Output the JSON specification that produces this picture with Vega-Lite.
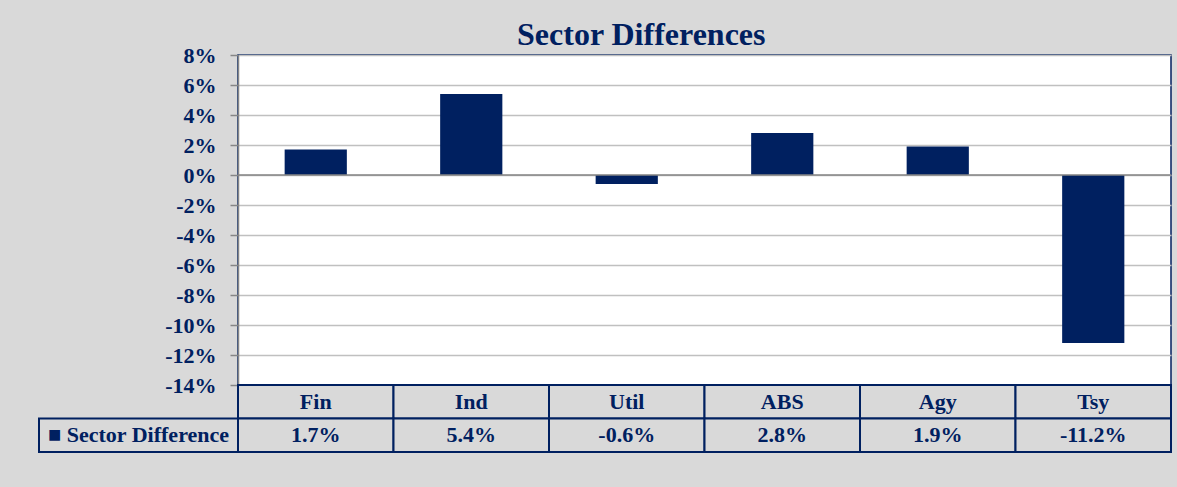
{
  "$schema": "https://vega.github.io/schema/vega-lite/v6.json",
  "background": "#d9d9d9",
  "padding": {"left": 38, "top": 19, "right": 10, "bottom": 40},
  "title": {"text": "Sector Differences", "font": "Liberation Serif", "fontSize": 32, "fontWeight": "bold", "color": "#002060", "anchor": "middle", "offset": -9, "dx": 36},
  "datasets": {
    "sectors": [
      {"sector": "Fin", "value": 1.7},
      {"sector": "Ind", "value": 5.4},
      {"sector": "Util", "value": -0.6},
      {"sector": "ABS", "value": 2.8},
      {"sector": "Agy", "value": 1.9},
      {"sector": "Tsy", "value": -11.2}
    ]
  },
  "columns": 2,
  "spacing": 0,
  "bounds": "flush",
  "align": "each",
  "concat": [
    {
      "width": 199, "height": 330,
      "data": {"values": [{}]},
      "mark": {"type": "point", "opacity": 0},
      "encoding": {}
    },
    {
      "width": 933, "height": 330,
      "data": {"name": "sectors"},
      "view": {"stroke": "#002060", "strokeWidth": 1.5, "fill": "white"},
      "layer": [
        {
          "mark": {"type": "bar", "color": "#002060"},
          "encoding": {
            "x": {"field": "sector", "type": "nominal", "sort": null, "scale": {"paddingInner": 0.6, "paddingOuter": 0.3}, "axis": null},
            "y": {"field": "value", "type": "quantitative",
              "scale": {"domain": [-14, 8], "nice": false, "zero": false},
              "axis": {"values": [-14, -12, -10, -8, -6, -4, -2, 0, 2, 4, 6, 8], "tickCount": 12, "labelExpr": "datum.value + '%'", "title": null,
                "grid": true, "gridColor": "#c0c0c0", "gridWidth": 1.5,
                "domainColor": "#868686", "domainWidth": 1.5, "tickColor": "#868686", "tickWidth": 1.5, "tickSize": 8,
                "labelPadding": 14, "labelFont": "Liberation Serif", "labelFontSize": 22, "labelFontWeight": "bold", "labelColor": "#002060",
                "labelOverlap": false, "labelFlush": false}}
          }
        },
        {
          "data": {"values": [{}]},
          "mark": {"type": "rule", "color": "#868686", "strokeWidth": 1.5},
          "encoding": {"y": {"datum": 0, "type": "quantitative"}}
        }
      ]
    },
    {
      "width": 199, "height": 67,
      "data": {"values": [{"name": "■ Sector Difference"}]},
      "layer": [
        {
          "mark": {"type": "rect", "fill": "#d9d9d9", "stroke": "#002060", "strokeWidth": 2},
          "encoding": {"y": {"datum": "v", "type": "nominal", "scale": {"domain": ["h", "v"], "paddingInner": 0, "paddingOuter": 0}, "axis": null}}
        },
        {
          "mark": {"type": "text", "font": "Liberation Serif", "fontSize": 22, "fontWeight": "bold", "color": "#002060"},
          "encoding": {"y": {"datum": "v", "type": "nominal"}, "text": {"field": "name"}}
        }
      ]
    },
    {
      "width": 933, "height": 67,
      "data": {"name": "sectors"},
      "transform": [{"calculate": "datum.value + '%'", "as": "label"}],
      "encoding": {"x": {"field": "sector", "type": "nominal", "sort": null, "scale": {"paddingInner": 0, "paddingOuter": 0}, "axis": null}},
      "layer": [
        {
          "mark": {"type": "rect", "fill": "#d9d9d9", "stroke": "#002060", "strokeWidth": 2},
          "encoding": {"y": {"datum": "h", "type": "nominal", "scale": {"domain": ["h", "v"], "paddingInner": 0, "paddingOuter": 0}, "axis": null}}
        },
        {
          "mark": {"type": "rect", "fill": "#d9d9d9", "stroke": "#002060", "strokeWidth": 2},
          "encoding": {"y": {"datum": "v", "type": "nominal"}}
        },
        {
          "mark": {"type": "text", "font": "Liberation Serif", "fontSize": 22, "fontWeight": "bold", "color": "#002060"},
          "encoding": {"y": {"datum": "h", "type": "nominal"}, "text": {"field": "sector"}}
        },
        {
          "mark": {"type": "text", "font": "Liberation Serif", "fontSize": 22, "fontWeight": "bold", "color": "#002060"},
          "encoding": {"y": {"datum": "v", "type": "nominal"}, "text": {"field": "label"}}
        }
      ]
    }
  ],
  "config": {"view": {"stroke": null}, "font": "Liberation Serif"}
}
